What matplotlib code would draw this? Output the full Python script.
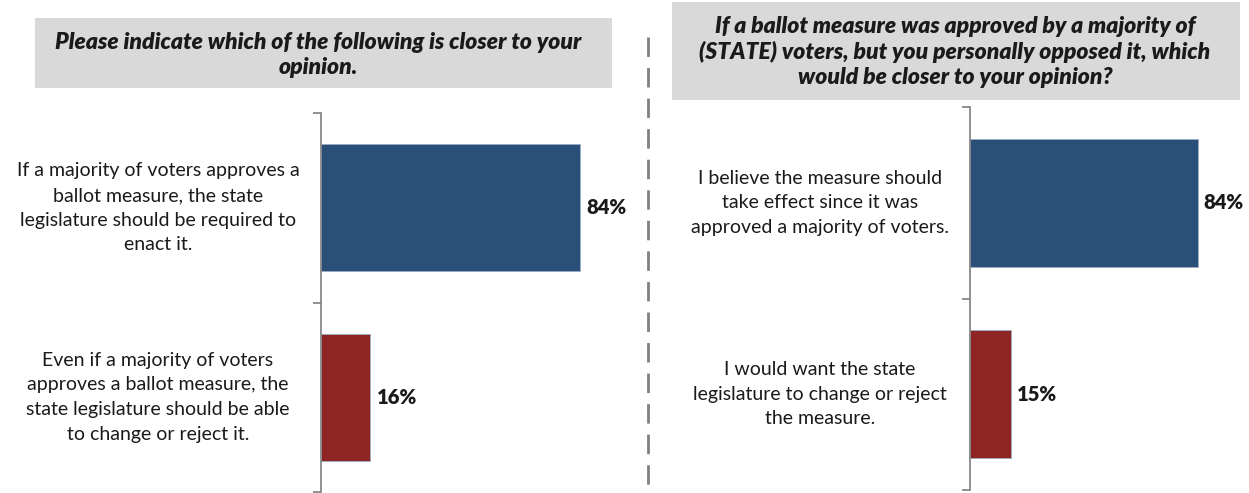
import matplotlib
matplotlib.use("Agg")
import matplotlib.pyplot as plt
import matplotlib.transforms as mtransforms
from matplotlib.patches import Rectangle
from matplotlib.lines import Line2D

plt.rcParams['font.family'] = ['Lato', 'DejaVu Sans']

left_title = "Please indicate which of the following is closer to your\nopinion."
left_cats = ["If a majority of voters approves a\nballot measure, the state\nlegislature should be required to\nenact it.",
             "Even if a majority of voters\napproves a ballot measure, the\nstate legislature should be able\nto change or reject it."]
left_vals = [84, 16]

right_title = "If a ballot measure was approved by a majority of\n(STATE) voters, but you personally opposed it, which\nwould be closer to your opinion?"
right_cats = ["I believe the measure should\ntake effect since it was\napproved a majority of voters.",
              "I would want the state\nlegislature to change or reject\nthe measure."]
right_vals = [84, 15]

colors = ["#2A4F78", "#8E2424"]
W, H = 1249, 493
fig = plt.figure(figsize=(W / 100, H / 100), dpi=100)


def fx(px):
    return px / W


def fy(py):
    return 1 - py / H


def panel(rect, cats, vals, label_cx):
    ax = fig.add_axes(rect)
    ypos = list(range(len(cats)))
    ax.barh(ypos, vals, height=0.67, color=colors, edgecolor="#9aaec4", linewidth=0.6)
    ax.set_xlim(0, 100)
    ax.set_ylim(1.5, -0.5)
    for s in ["top", "right", "bottom"]:
        ax.spines[s].set_visible(False)
    ax.spines["left"].set_color("#7f7f7f")
    ax.spines["left"].set_linewidth(1.2)
    ax.set_xticks([])
    ax.set_yticks([-0.5, 0.5, 1.5])
    ax.set_yticklabels([])
    ax.tick_params(axis="y", direction="out", length=6, color="#7f7f7f", width=1.2)
    for y, v in zip(ypos, vals):
        ax.text(v + 2.2, y, f"{v}%", va="center", ha="left", fontsize=14.5,
                fontweight="heavy", color="#1a1a1a")
    tr = mtransforms.blended_transform_factory(fig.transFigure, ax.transData)
    for y, c in zip(ypos, cats):
        ax.text(fx(label_cx), y, c, transform=tr, va="center", ha="center",
                fontsize=14, color="#1a1a1a", linespacing=1.55, clip_on=False)
    return ax


axl = panel([fx(321), fy(492), fx(308), (492 - 113) / H], left_cats, left_vals, 158)
axr = panel([fx(970), fy(490), fx(271), (490 - 107) / H], right_cats, right_vals, 820)

# title boxes
fig.patches.append(Rectangle((fx(35), fy(88)), fx(612 - 35), (88 - 18) / H,
                             transform=fig.transFigure, facecolor="#D9D9D9", edgecolor="none", zorder=0))
fig.patches.append(Rectangle((fx(672), fy(100)), fx(1240 - 672), (100 - 2) / H,
                             transform=fig.transFigure, facecolor="#D9D9D9", edgecolor="none", zorder=0))
fig.text(fx(318), fy(55), left_title, ha="center", va="center", fontsize=16.5,
         fontweight="heavy", fontstyle="italic", color="#1a1a1a", linespacing=1.2)
fig.text(fx(955), fy(52), right_title, ha="center", va="center", fontsize=16.5,
         fontweight="heavy", fontstyle="italic", color="#1a1a1a", linespacing=1.2)

# dashed divider
fig.add_artist(Line2D([fx(648), fx(648)], [fy(37), fy(492)], transform=fig.transFigure,
                      color="#808080", linewidth=2, linestyle=(0, (7, 4))))

fig.savefig("out.png", dpi=100)
